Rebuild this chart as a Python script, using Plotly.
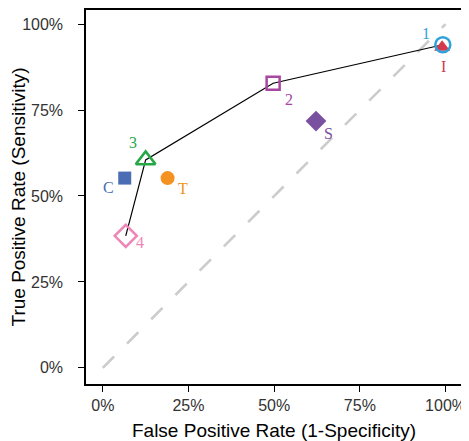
import plotly.graph_objects as go

# data
labels = ["1", "I", "2", "S", "3", "C", "T", "4"]
fpr = [0.992, 0.990, 0.497, 0.622, 0.125, 0.064, 0.189, 0.067]
tpr = [0.940, 0.933, 0.828, 0.718, 0.605, 0.552, 0.552, 0.384]
curve_labels = ["4", "3", "2", "1"]
tick_vals = [0, 0.25, 0.5, 0.75, 1.0]
tick_text = ["0%", "25%", "50%", "75%", "100%"]

# styles
colors = {"1": "#2ea3db", "I": "#d5394f", "2": "#a8479f", "S": "#7a51a0",
          "3": "#27a846", "C": "#4a6db4", "T": "#f39121", "4": "#ee86b6"}
symbols = {"1": "circle-open", "I": "triangle-up", "2": "square-open", "S": "diamond",
           "3": "triangle-up-open", "C": "square", "T": "circle", "4": "diamond-open"}
sizes = {"1": 15, "I": 14, "2": 13, "S": 16, "3": 17, "C": 13, "T": 14, "4": 17}
label_off = {"1": (-17, 11), "I": (1, -19), "2": (16, -16), "S": (13, -12),
             "3": (-13, 17), "C": (-16, -9), "T": (15, -10), "4": (14, -7)}

idx = {l: i for i, l in enumerate(labels)}

fig = go.Figure()
fig.add_trace(go.Scatter(x=[0, 1], y=[0, 1], mode="lines",
                         line=dict(color="#cccccc", width=2.6, dash="16px,18.3px"),
                         hoverinfo="skip", showlegend=False))
fig.add_trace(go.Scatter(x=[fpr[idx[l]] for l in curve_labels],
                         y=[tpr[idx[l]] for l in curve_labels], mode="lines",
                         line=dict(color="black", width=1.2), showlegend=False))
order = ["I", "1", "2", "S", "3", "C", "T", "4"]
for l in order:
    i = idx[l]
    fig.add_trace(go.Scatter(x=[fpr[i]], y=[tpr[i]], mode="markers",
                             marker=dict(symbol=symbols[l], size=sizes[l], color=colors[l],
                                         line=dict(color=colors[l], width=2.5 if "open" in symbols[l] else 0)),
                             showlegend=False))
    dx, dy = label_off[l]
    fig.add_annotation(x=fpr[i], y=tpr[i], text=l, showarrow=False, xshift=dx, yshift=dy,
                       font=dict(family="Liberation Serif", size=16, color=colors[l]))

axis_common = dict(showgrid=False, zeroline=False, showline=True, linecolor="black",
                   linewidth=1.5, mirror=True, ticks="outside", ticklen=6, tickwidth=1.3,
                   tickcolor="black", tickvals=tick_vals, ticktext=tick_text, automargin=False,
                   tickfont=dict(family="Liberation Sans", size=16, color="#333333"))
fig.update_xaxes(range=[-0.049, 1.048], title=dict(text="False Positive Rate (1-Specificity)",
                 font=dict(family="Liberation Sans", size=19, color="black")), **axis_common)
fig.update_yaxes(range=[-0.047, 1.041], ticklabelstandoff=12,
                 title=dict(text="True Positive Rate (Sensitivity)",
                 font=dict(family="Liberation Sans", size=19, color="black")), **axis_common)
fig.update_layout(width=461, height=433, margin=dict(l=78, r=6.5, t=2, b=57),
                  plot_bgcolor="white", paper_bgcolor="white")
fig.write_html("out.html")
